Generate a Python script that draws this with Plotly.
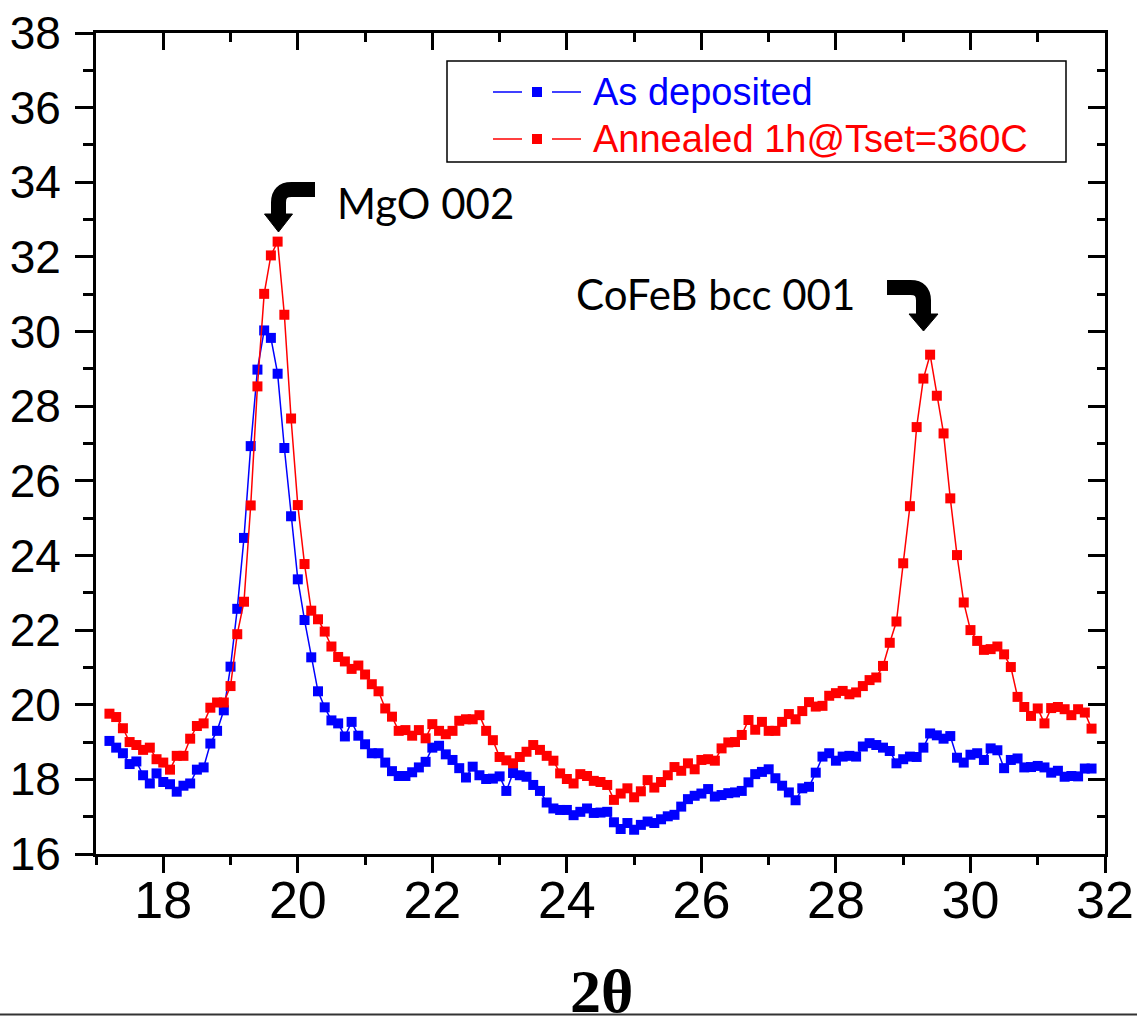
import plotly.graph_objects as go

# ---------------- data ----------------
two_theta = [17.2, 17.3, 17.4, 17.5, 17.6, 17.7, 17.8, 17.9, 18.0, 18.1,
             18.2, 18.3, 18.4, 18.5, 18.6, 18.7, 18.8, 18.9, 19.0, 19.1,
             19.2, 19.3, 19.4, 19.5, 19.6, 19.7, 19.8, 19.9, 20.0, 20.1,
             20.2, 20.3, 20.4, 20.5, 20.6, 20.7, 20.8, 20.9, 21.0, 21.1,
             21.2, 21.3, 21.4, 21.5, 21.6, 21.7, 21.8, 21.9, 22.0, 22.1,
             22.2, 22.3, 22.4, 22.5, 22.6, 22.7, 22.8, 22.9, 23.0, 23.1,
             23.2, 23.3, 23.4, 23.5, 23.6, 23.7, 23.8, 23.9, 24.0, 24.1,
             24.2, 24.3, 24.4, 24.5, 24.6, 24.7, 24.8, 24.9, 25.0, 25.1,
             25.2, 25.3, 25.4, 25.5, 25.6, 25.7, 25.8, 25.9, 26.0, 26.1,
             26.2, 26.3, 26.4, 26.5, 26.6, 26.7, 26.8, 26.9, 27.0, 27.1,
             27.2, 27.3, 27.4, 27.5, 27.6, 27.7, 27.8, 27.9, 28.0, 28.1,
             28.2, 28.3, 28.4, 28.5, 28.6, 28.7, 28.8, 28.9, 29.0, 29.1,
             29.2, 29.3, 29.4, 29.5, 29.6, 29.7, 29.8, 29.9, 30.0, 30.1,
             30.2, 30.3, 30.4, 30.5, 30.6, 30.7, 30.8, 30.9, 31.0, 31.1,
             31.2, 31.3, 31.4, 31.5, 31.6, 31.7, 31.8]

as_deposited = [19.03, 18.85, 18.70, 18.41, 18.48, 18.11, 17.89, 18.16, 17.93, 17.87,
                17.67, 17.83, 17.89, 18.26, 18.32, 18.96, 19.30, 19.85, 21.02, 22.57,
                24.47, 26.93, 28.98, 30.03, 29.83, 28.87, 26.88, 25.05, 23.36, 22.27,
                21.27, 20.36, 19.93, 19.58, 19.50, 19.15, 19.54, 19.17, 18.94, 18.70,
                18.70, 18.45, 18.22, 18.09, 18.09, 18.19, 18.32, 18.47, 18.85, 18.90,
                18.67, 18.52, 18.30, 18.05, 18.34, 18.11, 18.01, 18.02, 18.08, 17.69,
                18.17, 18.11, 18.07, 17.85, 17.69, 17.38, 17.22, 17.18, 17.18, 17.04,
                17.13, 17.22, 17.10, 17.11, 17.13, 16.85, 16.67, 16.83, 16.65, 16.78,
                16.87, 16.83, 16.93, 17.01, 17.05, 17.27, 17.47, 17.56, 17.62, 17.74,
                17.54, 17.58, 17.63, 17.65, 17.69, 17.92, 18.14, 18.20, 18.27, 18.03,
                17.83, 17.65, 17.44, 17.76, 17.80, 18.18, 18.61, 18.70, 18.50, 18.61,
                18.63, 18.61, 18.88, 18.97, 18.92, 18.85, 18.76, 18.43, 18.54, 18.61,
                18.60, 18.85, 19.23, 19.18, 19.09, 19.16, 18.58, 18.45, 18.66, 18.70,
                18.52, 18.83, 18.78, 18.30, 18.52, 18.56, 18.32, 18.33, 18.36, 18.32,
                18.18, 18.23, 18.07, 18.09, 18.08, 18.29, 18.29]

annealed = [19.76, 19.67, 19.37, 19.00, 18.92, 18.79, 18.85, 18.54, 18.45, 18.26,
            18.63, 18.63, 19.09, 19.43, 19.50, 19.92, 20.06, 20.06, 20.50, 21.89,
            22.76, 25.34, 28.53, 31.01, 32.04, 32.41, 30.45, 27.67, 25.35, 23.77,
            22.52, 22.29, 21.96, 21.56, 21.28, 21.16, 20.96, 21.05, 20.81, 20.55,
            20.36, 19.90, 19.68, 19.30, 19.32, 19.17, 19.32, 19.10, 19.48, 19.30,
            19.21, 19.30, 19.57, 19.61, 19.61, 19.72, 19.30, 19.05, 18.60, 18.51,
            18.43, 18.60, 18.74, 18.92, 18.79, 18.63, 18.50, 18.16, 18.01, 17.89,
            18.14, 18.09, 17.96, 17.93, 17.85, 17.45, 17.62, 17.76, 17.52, 17.68,
            17.98, 17.78, 17.93, 18.11, 18.33, 18.23, 18.43, 18.27, 18.52, 18.54,
            18.50, 18.83, 18.99, 19.00, 19.19, 19.59, 19.33, 19.54, 19.30, 19.30,
            19.54, 19.75, 19.61, 19.83, 20.07, 19.95, 19.97, 20.24, 20.31, 20.37,
            20.28, 20.33, 20.50, 20.66, 20.73, 21.04, 21.66, 22.23, 23.79, 25.32,
            27.44, 28.74, 29.38, 28.28, 27.27, 25.53, 24.01, 22.74, 22.00, 21.71,
            21.47, 21.49, 21.56, 21.35, 21.01, 20.21, 19.94, 19.70, 19.90, 19.50,
            19.91, 19.94, 19.88, 19.72, 19.88, 19.79, 19.36]

series_names = ["As deposited", "Annealed 1h@Tset=360C"]
series_colors = ["#0000FF", "#FF0000"]
peak_labels = ["MgO 002", "CoFeB bcc 001"]
x_title = "2θ"
x_range = [17, 32]
y_range = [16, 38]

# ---------------- layout helpers (pixel -> paper) ----------------
W, H = 1137, 1016
L, R, T, B = 96, 1105, 33, 854


def px(x):
    return (x - L) / (R - L)


def py(y):
    return (B - y) / (B - T)


fig = go.Figure()
for name, ys, col in zip(series_names, [as_deposited, annealed], series_colors):
    fig.add_trace(go.Scatter(
        x=two_theta, y=ys, name=name, mode="lines+markers",
        line=dict(color=col, width=1.5),
        marker=dict(symbol="square", size=10, color=col, line=dict(width=0)),
        showlegend=False,
    ))

# empty trace so that the mirrored top/right frame axes get drawn
fig.add_trace(go.Scatter(x=[], y=[], xaxis="x2", yaxis="y2",
                         showlegend=False, hoverinfo="skip"))

axis_common = dict(showgrid=False, zeroline=False, showline=True,
                   linecolor="black", linewidth=3, tickcolor="black",
                   tickwidth=3, automargin=False)

fig.update_layout(
    width=W, height=H,
    margin=dict(l=L, r=W - R, t=T, b=H - B),
    paper_bgcolor="white", plot_bgcolor="white",
    font=dict(family="Liberation Sans, Arial", color="black"),
    xaxis=dict(range=x_range, dtick=2, tick0=0, ticks="outside", ticklen=16,
               tickfont=dict(size=52), ticklabelstandoff=-17,
               minor=dict(dtick=1, tick0=17, ticks="outside", ticklen=8,
                          tickwidth=3, tickcolor="black"),
               **axis_common),
    yaxis=dict(range=y_range, dtick=2, tick0=0, ticks="outside", ticklen=18,
               tickfont=dict(size=46), ticklabelstandoff=5,
               minor=dict(dtick=1, tick0=16, ticks="outside", ticklen=10,
                          tickwidth=3, tickcolor="black"),
               **axis_common),
    xaxis2=dict(range=x_range, overlaying="x", side="top", anchor="y2",
                dtick=2, tick0=0, ticks="inside", ticklen=17,
                showticklabels=False,
                minor=dict(dtick=1, tick0=17, ticks="inside", ticklen=9,
                           tickwidth=3, tickcolor="black"),
                **axis_common),
    yaxis2=dict(range=y_range, overlaying="y", side="right", anchor="x2",
                dtick=2, tick0=0, ticks="inside", ticklen=17,
                showticklabels=False,
                minor=dict(dtick=1, tick0=16, ticks="inside", ticklen=8,
                           tickwidth=3, tickcolor="black"),
                **axis_common),
)

shapes = []
annotations = []

# ---- manual legend (Origin style) ----
shapes.append(dict(type="rect", xref="paper", yref="paper",
                   x0=px(447), x1=px(1066), y0=py(162), y1=py(61),
                   line=dict(color="black", width=1.5), fillcolor="white",
                   layer="below"))
for i, (name, col) in enumerate(zip(series_names, series_colors)):
    yc = 92 + 47 * i
    for xa, xb in [(493, 522), (552, 581)]:
        shapes.append(dict(type="line", xref="paper", yref="paper",
                           x0=px(xa), x1=px(xb), y0=py(yc), y1=py(yc),
                           line=dict(color=col, width=1.5)))
    shapes.append(dict(type="rect", xref="paper", yref="paper",
                       x0=px(532), x1=px(542), y0=py(yc + 5), y1=py(yc - 5),
                       line=dict(width=0), fillcolor=col))
    annotations.append(dict(text=name, xref="paper", yref="paper",
                            x=px(591), y=py(yc), xanchor="left", yanchor="middle",
                            showarrow=False,
                            font=dict(size=38, color=col,
                                      family="Liberation Sans, Arial")))

# ---- peak labels with bent arrows ----
annotations.append(dict(text=peak_labels[0], xref="paper", yref="paper",
                        x=px(335), y=py(203), xanchor="left", yanchor="middle",
                        showarrow=False, font=dict(size=42, family="Lato")))
annotations.append(dict(text=peak_labels[1], xref="paper", yref="paper",
                        x=px(574), y=py(294), xanchor="left", yanchor="middle",
                        showarrow=False, font=dict(size=42, family="Lato")))


def bent_arrow(x_start, y_bar, x_stem, y_stem_end, tip_y, head_half):
    r = 13 if x_start > x_stem else -13
    path = (f"M {px(x_start)},{py(y_bar)} L {px(x_stem + r)},{py(y_bar)} "
            f"Q {px(x_stem)},{py(y_bar)} {px(x_stem)},{py(y_bar + 13)} "
            f"L {px(x_stem)},{py(y_stem_end)}")
    shapes.append(dict(type="path", xref="paper", yref="paper", path=path,
                       line=dict(color="black", width=15),
                       fillcolor="rgba(0,0,0,0)"))
    head = (f"M {px(x_stem - head_half)},{py(y_stem_end - 2)} "
            f"L {px(x_stem + head_half)},{py(y_stem_end - 2)} "
            f"L {px(x_stem)},{py(tip_y)} Z")
    shapes.append(dict(type="path", xref="paper", yref="paper", path=head,
                       line=dict(color="black", width=1), fillcolor="black"))


bent_arrow(315, 189.5, 278.5, 216, 232, 14)
bent_arrow(887, 287.5, 923.5, 316, 331, 14.5)

# ---- x-axis title (bold serif, at the page edge as in the original) ----
annotations.append(dict(text=f"<b>{x_title}</b>", xref="paper", yref="paper",
                        x=px(601), y=py(955), xanchor="center", yanchor="top",
                        showarrow=False,
                        font=dict(size=62, family="Liberation Serif, Times New Roman")))

# bottom page rule
shapes.append(dict(type="line", xref="paper", yref="paper",
                   x0=px(0), x1=px(W), y0=py(1014.5), y1=py(1014.5),
                   line=dict(color="#333333", width=2)))

fig.update_layout(shapes=shapes, annotations=annotations)
fig.write_html("out.html")
